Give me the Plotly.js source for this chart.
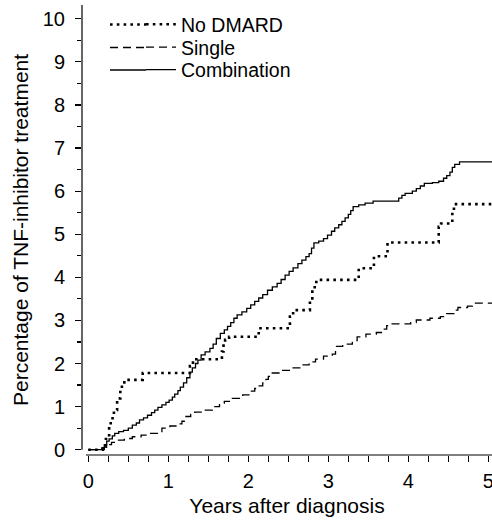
<!DOCTYPE html>
<html>
<head>
<meta charset="utf-8">
<script src="https://cdn.plot.ly/plotly-3.0.1.min.js"></script>
<style>
html,body{margin:0;padding:0;background:#fff;}
#chart{width:492px;height:522px;}
</style>
</head>
<body>
<div id="chart"></div>
<script>
// ---- data ----
const seriesNames = ["No DMARD", "Single", "Combination"];

const noDmardYears = [0, 0.15, 0.18, 0.22, 0.26, 0.28, 0.32, 0.36, 0.40, 0.45, 0.68, 1.27, 1.29, 1.35, 1.67, 1.69, 1.71, 1.76, 2.13, 2.52, 2.56, 2.77, 2.80, 2.83, 2.85, 3.38, 3.57, 3.74, 4.38, 4.41, 4.55, 4.57, 5.05];
const noDmardPct   = [0, 0.00, 0.07, 0.25, 0.53, 0.73, 0.92, 1.19, 1.46, 1.62, 1.78, 1.94, 2.02, 2.10, 2.28, 2.47, 2.55, 2.62, 2.82, 3.09, 3.24, 3.47, 3.70, 3.86, 3.94, 4.21, 4.49, 4.81, 5.17, 5.25, 5.56, 5.70, 5.70];

const singleYears = [0, 0.155, 0.20, 0.24, 0.29, 0.34, 0.45, 0.55, 0.66, 0.75, 0.92, 1.02, 1.12, 1.17, 1.22, 1.28, 1.33, 1.45, 1.55, 1.64, 1.70, 1.80, 1.93, 2.03, 2.08, 2.12, 2.18, 2.22, 2.25, 2.28, 2.40, 2.55, 2.67, 2.76, 2.84, 2.94, 3.05, 3.09, 3.18, 3.30, 3.36, 3.47, 3.60, 3.68, 3.73, 3.77, 4.03, 4.10, 4.27, 4.40, 4.48, 4.57, 4.62, 4.74, 4.80, 5.05];
const singlePct   = [0, 0.00, 0.06, 0.12, 0.17, 0.22, 0.26, 0.30, 0.34, 0.38, 0.50, 0.55, 0.60, 0.66, 0.77, 0.82, 0.87, 0.92, 1.00, 1.08, 1.12, 1.19, 1.27, 1.36, 1.42, 1.48, 1.55, 1.63, 1.70, 1.78, 1.84, 1.90, 1.97, 2.04, 2.10, 2.17, 2.22, 2.40, 2.45, 2.53, 2.62, 2.68, 2.72, 2.80, 2.88, 2.92, 2.95, 3.01, 3.05, 3.09, 3.16, 3.24, 3.30, 3.33, 3.40, 3.40];

const comboYears = [0, 0.15, 0.17, 0.20, 0.23, 0.26, 0.30, 0.33, 0.38, 0.44, 0.50, 0.55, 0.60, 0.64, 0.69, 0.74, 0.79, 0.83, 0.87, 0.92, 0.97, 1.01, 1.05, 1.08, 1.12, 1.15, 1.19, 1.23, 1.27, 1.30, 1.34, 1.37, 1.41, 1.46, 1.52, 1.56, 1.60, 1.65, 1.70, 1.74, 1.78, 1.82, 1.86, 1.92, 1.98, 2.03, 2.08, 2.13, 2.18, 2.24, 2.30, 2.36, 2.41, 2.46, 2.51, 2.56, 2.62, 2.67, 2.72, 2.76, 2.79, 2.82, 2.88, 2.94, 2.99, 3.04, 3.08, 3.13, 3.17, 3.21, 3.25, 3.28, 3.31, 3.38, 3.46, 3.56, 3.88, 3.92, 3.96, 4.05, 4.10, 4.15, 4.20, 4.30, 4.38, 4.44, 4.48, 4.52, 4.55, 4.58, 4.64, 5.05];
const comboPct   = [0, 0.00, 0.05, 0.12, 0.20, 0.25, 0.32, 0.38, 0.42, 0.45, 0.50, 0.57, 0.62, 0.69, 0.74, 0.80, 0.86, 0.92, 0.98, 1.04, 1.10, 1.15, 1.22, 1.29, 1.37, 1.45, 1.55, 1.67, 1.80, 1.90, 2.00, 2.08, 2.20, 2.27, 2.35, 2.45, 2.58, 2.70, 2.78, 2.86, 2.95, 3.05, 3.13, 3.20, 3.28, 3.36, 3.44, 3.52, 3.60, 3.70, 3.78, 3.86, 3.95, 4.05, 4.14, 4.22, 4.32, 4.40, 4.48, 4.55, 4.68, 4.80, 4.84, 4.90, 4.98, 5.07, 5.15, 5.22, 5.30, 5.38, 5.46, 5.55, 5.64, 5.68, 5.72, 5.77, 5.84, 5.90, 5.95, 6.00, 6.06, 6.12, 6.18, 6.20, 6.23, 6.30, 6.36, 6.44, 6.55, 6.62, 6.68, 6.68];

const xTickVals = [0, 1, 2, 3, 4, 5];
const yTickVals = [0, 1, 2, 3, 4, 5, 6, 7, 8, 9, 10];

const xTitle = "Years after diagnosis";
const yTitle = "Percentage of TNF-inhibitor treatment";

// ---- layout constants ----
const FONT = "Liberation Sans, Arial, sans-serif";
const W = 492, H = 522;
const M = {l: 82, r: 0, t: 5, b: 67};
const plotW = W - M.l - M.r, plotH = H - M.t - M.b;
const xRange = [-0.079, 5.046];
const yRange = [-0.123, 10.32];
function px2paperX(px){ return (px - M.l) / plotW; }
function px2paperY(py){ return (H - M.b - py) / plotH; }

const DOT = "2.6px,4.2px", DASH = "8px,5px";

const traces = [
  {x: noDmardYears, y: noDmardPct, name: seriesNames[0], legend: "legend",
   mode: "lines", line: {shape: "hv", color: "#000", width: 2.6, dash: DOT}},
  {x: singleYears, y: singlePct, name: seriesNames[1], legend: "legend2",
   mode: "lines", line: {shape: "hv", color: "#000", width: 1.3, dash: DASH}},
  {x: comboYears, y: comboPct, name: seriesNames[2], legend: "legend3",
   mode: "lines", line: {shape: "hv", color: "#000", width: 1.3}}
];

const legendRowsPx = [24.5, 47.5, 70];
const legendTextLeftPx = 181;
function legendAt(py){
  return {x: px2paperX(legendTextLeftPx - 40), y: px2paperY(py), xanchor: "left", yanchor: "middle",
          bgcolor: "rgba(0,0,0,0)", borderwidth: 0, font: {family: FONT, size: 19.5, color: "#000"},
          tracegroupgap: 0, itemclick: false};
}

// legend line extensions (the reference uses longer sample lines)
const legShapes = [
  {dash: DOT, width: 2.6},
  {dash: DASH, width: 1.3},
  {dash: "solid", width: 1.3}
].map((s, i) => ({
  type: "line", xref: "paper", yref: "paper",
  x0: px2paperX(110), x1: px2paperX(legendTextLeftPx - 35),
  y0: px2paperY(legendRowsPx[i]), y1: px2paperY(legendRowsPx[i]),
  line: {color: "#000", width: s.width, dash: s.dash}
}));

const axisShapes = [
  {type: "line", xref: "paper", yref: "y", x0: 0, x1: 0, y0: 0, y1: yRange[1],
   line: {color: "#000", width: 1.2}},
  {type: "line", xref: "x", yref: "paper", x0: -0.03, x1: xRange[1], y0: 0, y1: 0,
   line: {color: "#000", width: 1.2}}
];

const layout = {
  width: W, height: H,
  margin: M,
  paper_bgcolor: "#fff", plot_bgcolor: "#fff",
  font: {family: FONT, size: 20, color: "#000"},
  showlegend: true,
  legend: legendAt(legendRowsPx[0]),
  legend2: legendAt(legendRowsPx[1]),
  legend3: legendAt(legendRowsPx[2]),
  xaxis: {
    range: xRange, showgrid: false, zeroline: false, showline: false,
    tickvals: xTickVals, ticktext: xTickVals.map(String),
    ticks: "outside", ticklen: 6, tickwidth: 1.2, tickcolor: "#000",
    minor: {dtick: 0.25, tick0: 0, ticks: "outside", ticklen: 6, tickwidth: 1.2, tickcolor: "#000"},
    tickfont: {family: FONT, size: 20, color: "#000"},
    ticklabeloverflow: "allow",
    ticklabelstandoff: 2,
    title: {text: xTitle, font: {family: FONT, size: 21, color: "#000"}, standoff: 7},
    automargin: false, fixedrange: true
  },
  yaxis: {
    range: yRange, showgrid: false, zeroline: false, showline: false,
    tickvals: yTickVals, ticktext: yTickVals.map(String),
    ticks: "outside", ticklen: 6, tickwidth: 1.2, tickcolor: "#000",
    minor: {dtick: 0.5, tick0: 0, ticks: "outside", ticklen: 4, tickwidth: 1.2, tickcolor: "#000"},
    tickfont: {family: FONT, size: 20, color: "#000"},
    ticklabelstandoff: 6,
    title: {text: yTitle, font: {family: FONT, size: 21, color: "#000"}, standoff: 8},
    automargin: false, fixedrange: true
  },
  shapes: axisShapes.concat(legShapes)
};

Plotly.newPlot("chart", traces, layout, {staticPlot: true, displayModeBar: false});
</script>
</body>
</html>
